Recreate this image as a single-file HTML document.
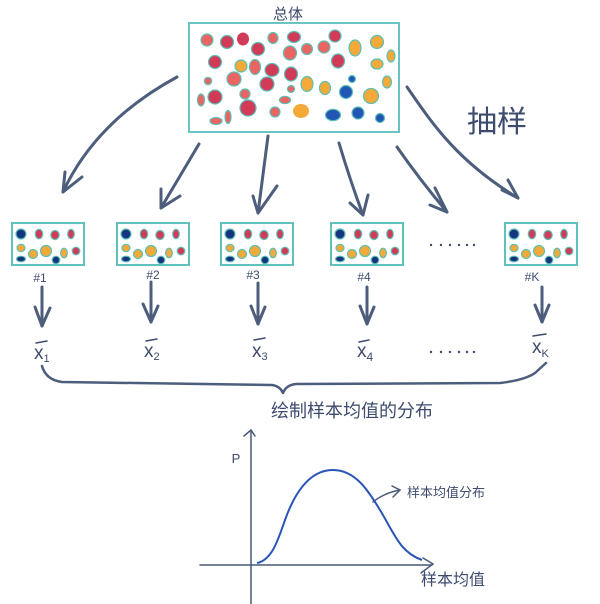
<!DOCTYPE html>
<html>
<head>
<meta charset="utf-8">
<style>
html,body{margin:0;padding:0;background:#fff;}
svg{display:block;}
text{font-family:"Liberation Sans","Noto Sans CJK SC",sans-serif;fill:#3d4b6e;}
</style>
</head>
<body>
<svg width="600" height="604" viewBox="0 0 600 604" xmlns="http://www.w3.org/2000/svg">
<defs>
<g id="samp">
  <rect x="0" y="0" width="72" height="42" fill="#fff" stroke="#5fc0bc" stroke-width="2"/>
  <g stroke="#5cbfb8" stroke-width="1.2">
    <ellipse cx="9" cy="11" rx="5" ry="5" fill="#17357f"/>
    <ellipse cx="27" cy="11" rx="3.7" ry="4.7" fill="#d23b57"/>
    <ellipse cx="43" cy="12" rx="4.2" ry="4.5" fill="#d23b57"/>
    <ellipse cx="59" cy="11" rx="3.3" ry="4.7" fill="#d23b57"/>
    <ellipse cx="9" cy="25" rx="4" ry="3.7" fill="#f3aa38"/>
    <ellipse cx="21" cy="31" rx="4.5" ry="4.5" fill="#f3aa38"/>
    <ellipse cx="34" cy="28" rx="5.5" ry="5.5" fill="#f3aa38"/>
    <ellipse cx="52" cy="30" rx="3.3" ry="4.8" fill="#f3aa38"/>
    <ellipse cx="64" cy="28" rx="3.8" ry="3.8" fill="#d23b57"/>
    <ellipse cx="9" cy="36" rx="4.5" ry="2.8" fill="#17357f"/>
    <ellipse cx="44" cy="37" rx="3.8" ry="3.8" fill="#17357f"/>
  </g>
</g>
</defs>

<!-- Population box -->
<text x="288" y="19" font-size="15" text-anchor="middle">总体</text>
<rect x="189" y="23" width="210" height="109" fill="#fff" stroke="#6bc4c1" stroke-width="2"/>
<g stroke="#5cbfb8" stroke-width="1.2">
  <ellipse cx="207" cy="40" rx="6" ry="6" fill="#ea6462"/>
  <ellipse cx="227" cy="42" rx="6.5" ry="6.5" fill="#d23b57"/>
  <ellipse cx="243" cy="39" rx="6" ry="6.5" fill="#d23b57" stroke="none"/>
  <ellipse cx="273" cy="38" rx="5" ry="5.5" fill="#ea6462"/>
  <ellipse cx="294" cy="37" rx="6.5" ry="5.5" fill="#d23b57"/>
  <ellipse cx="335" cy="36" rx="6" ry="6" fill="#d23b57"/>
  <ellipse cx="355" cy="48" rx="6" ry="8" fill="#f3aa38"/>
  <ellipse cx="377" cy="42" rx="6.5" ry="6.5" fill="#f3aa38"/>
  <ellipse cx="391" cy="56" rx="4" ry="6" fill="#f3aa38"/>
  <ellipse cx="258" cy="49" rx="6.5" ry="6.5" fill="#d23b57"/>
  <ellipse cx="290" cy="53" rx="6.5" ry="7" fill="#ea6462"/>
  <ellipse cx="307" cy="49" rx="5.5" ry="5.5" fill="#ea6462"/>
  <ellipse cx="324" cy="47" rx="6" ry="6" fill="#ea6462"/>
  <ellipse cx="215" cy="62" rx="6.5" ry="6.5" fill="#d23b57"/>
  <ellipse cx="241" cy="66" rx="6" ry="6" fill="#f3aa38"/>
  <ellipse cx="255" cy="67" rx="5.5" ry="7.5" fill="#ea6462"/>
  <ellipse cx="272" cy="70" rx="7" ry="6.5" fill="#d23b57"/>
  <ellipse cx="291" cy="74" rx="6.5" ry="7" fill="#d23b57"/>
  <ellipse cx="338" cy="61" rx="6.5" ry="7" fill="#d23b57"/>
  <ellipse cx="377" cy="64" rx="6" ry="5" fill="#f3aa38"/>
  <ellipse cx="208" cy="81" rx="3.7" ry="3.7" fill="#ea6462"/>
  <ellipse cx="234" cy="79" rx="7" ry="7" fill="#ea6462"/>
  <ellipse cx="267" cy="84" rx="7" ry="7" fill="#d23b57"/>
  <ellipse cx="291" cy="89" rx="3.5" ry="3.5" fill="#ea6462"/>
  <ellipse cx="307" cy="84" rx="6" ry="7.5" fill="#f3aa38"/>
  <ellipse cx="325" cy="88" rx="5.5" ry="6.5" fill="#f3aa38"/>
  <ellipse cx="352" cy="79" rx="3.5" ry="3.5" fill="#2156b5"/>
  <ellipse cx="346" cy="92" rx="6.5" ry="6.5" fill="#2156b5"/>
  <ellipse cx="387" cy="82" rx="4.5" ry="6" fill="#f3aa38"/>
  <ellipse cx="371" cy="96" rx="7.5" ry="7.5" fill="#f3aa38"/>
  <ellipse cx="201" cy="100" rx="3.5" ry="6" fill="#ea6462"/>
  <ellipse cx="215" cy="97" rx="7" ry="7" fill="#d23b57"/>
  <ellipse cx="245" cy="94" rx="5" ry="5" fill="#ea6462"/>
  <ellipse cx="285" cy="100" rx="5.5" ry="3.7" fill="#ea6462"/>
  <ellipse cx="248" cy="108" rx="8" ry="8" fill="#d23b57"/>
  <ellipse cx="275" cy="112" rx="5" ry="5" fill="#ea6462"/>
  <ellipse cx="301" cy="111" rx="8" ry="7" fill="#f3aa38" stroke="none"/>
  <ellipse cx="333" cy="115" rx="7.5" ry="5.7" fill="#2156b5"/>
  <ellipse cx="358" cy="113" rx="6" ry="6" fill="#2156b5"/>
  <ellipse cx="380" cy="118" rx="4.5" ry="4.5" fill="#2156b5"/>
  <ellipse cx="216" cy="121" rx="6" ry="3.5" fill="#ea6462"/>
  <ellipse cx="228" cy="117" rx="3" ry="6.5" fill="#ea6462"/>
</g>

<!-- sampling label -->
<text x="497" y="132" font-size="30" text-anchor="middle">抽样</text>

<!-- big arrows -->
<g fill="none" stroke="#4d5d7c" stroke-width="3" stroke-linecap="round" stroke-linejoin="round">
  <path d="M177,77 Q96,121 63,192"/>
  <path d="M65,172 L63,192 L82,177"/>
  <path d="M199,144 L161,208"/>
  <path d="M161,189 L161,208 L180,196"/>
  <path d="M268,136 L258,213"/>
  <path d="M253,196 L258,213 L277,186"/>
  <path d="M339,143 Q350,180 363,215"/>
  <path d="M350,203 L363,215 L368,195"/>
  <path d="M397,147 Q420,180 447,212"/>
  <path d="M430,205 L447,212 L435,188"/>
  <path d="M407,87 C430,120 455,160 518,198"/>
  <path d="M502,190 L518,198 L508,180"/>
</g>

<!-- sample boxes -->
<use href="#samp" x="12" y="223"/>
<use href="#samp" x="117" y="223"/>
<use href="#samp" x="221" y="223"/>
<use href="#samp" x="331" y="223"/>
<use href="#samp" x="505" y="223"/>

<g fill="#3d4b6e">
  <circle cx="431" cy="245" r="1.2"/><circle cx="441" cy="245" r="1.2"/><circle cx="450" cy="245" r="1.2"/>
  <circle cx="459" cy="245" r="1.2"/><circle cx="467" cy="245" r="1.2"/><circle cx="474" cy="245" r="1.2"/>
</g>

<!-- sample labels -->
<g font-size="12">
  <text x="40" y="282" text-anchor="middle">#1</text>
  <text x="153" y="279" text-anchor="middle">#2</text>
  <text x="253" y="279" text-anchor="middle">#3</text>
  <text x="364" y="281" text-anchor="middle">#4</text>
  <text x="532" y="281" text-anchor="middle">#K</text>
</g>

<!-- down arrows -->
<g fill="none" stroke="#4d5d7c" stroke-width="3" stroke-linecap="round" stroke-linejoin="round">
  <path d="M42,287 L42,326"/><path d="M35,307 L42,326 L50,308"/>
  <path d="M151,282 L151,322"/><path d="M143,304 L151,322 L158,306"/>
  <path d="M258,283 L258,324"/><path d="M251,306 L258,324 L265,307"/>
  <path d="M367,287 L367,324"/><path d="M360,306 L367,324 L374,307"/>
  <path d="M542,287 L542,322"/><path d="M535,305 L542,322 L549,305"/>
</g>

<!-- x-bar labels -->
<g stroke="#3d4b6e" stroke-width="1.5" stroke-linecap="round">
  <line x1="36" y1="343" x2="47" y2="341"/>
  <line x1="146" y1="341" x2="157" y2="339"/>
  <line x1="254" y1="340" x2="265" y2="338"/>
  <line x1="359" y1="342" x2="369" y2="340"/>
  <line x1="533" y1="336" x2="546" y2="334"/>
</g>
<g font-size="19">
  <text x="34" y="359">x<tspan font-size="11" dy="3">1</tspan></text>
  <text x="144" y="357">x<tspan font-size="11" dy="3">2</tspan></text>
  <text x="252" y="357">x<tspan font-size="11" dy="3">3</tspan></text>
  <text x="357" y="357">x<tspan font-size="12" dy="4">4</tspan></text>
  <text x="532" y="353">x<tspan font-size="11" dy="4">K</tspan></text>
</g>
<g fill="#3d4b6e">
  <circle cx="431" cy="352" r="1.2"/><circle cx="441" cy="352" r="1.2"/><circle cx="450" cy="352" r="1.2"/>
  <circle cx="459" cy="352" r="1.2"/><circle cx="467" cy="352" r="1.2"/><circle cx="474" cy="352" r="1.2"/>
</g>

<!-- brace -->
<path d="M42,366 Q46,380 62,382 L272,385 Q280,386 283,393 Q286,385 296,384 L500,383 Q525,380 535,373 L546,363" fill="none" stroke="#4d5d7c" stroke-width="2.5" stroke-linecap="round" stroke-linejoin="round"/>
<text x="352" y="417" font-size="18" text-anchor="middle">绘制样本均值的分布</text>

<!-- chart -->
<g fill="none" stroke="#4a5a78" stroke-width="1.5" stroke-linecap="round">
  <line x1="251" y1="604" x2="251" y2="431"/>
  <path d="M244,436 L251,430 L255,436"/>
  <line x1="200" y1="565" x2="432" y2="565"/>
  <path d="M423,558 L433,564 L421,573"/>
  <path d="M373,502 Q384,493 400,490"/>
  <path d="M392,486 L400,490 L393,497"/>
</g>
<path d="M257,563 C272,560 278,540 285,520 C295,492 310,470 333,470 C355,470 368,490 380,510 C395,535 400,552 422,560" fill="none" stroke="#2a55b8" stroke-width="2"/>
<text x="236" y="463" font-size="13" text-anchor="middle">P</text>
<text x="446" y="497" font-size="13" text-anchor="middle">样本均值分布</text>
<text x="453" y="585" font-size="16" text-anchor="middle">样本均值</text>
</svg>
</body>
</html>
